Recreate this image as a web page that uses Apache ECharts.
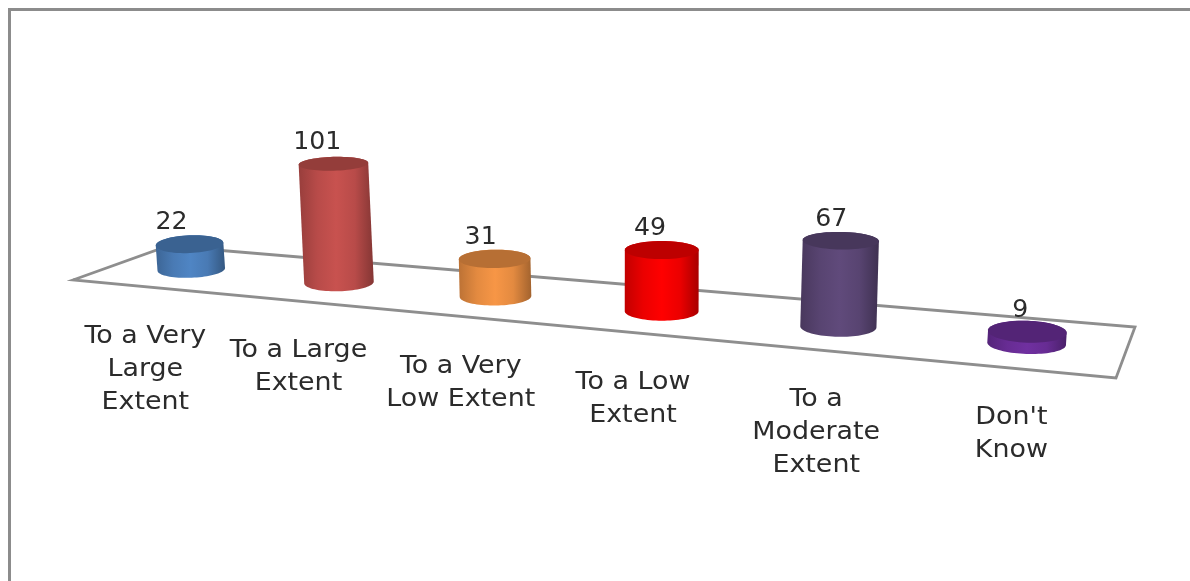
<!DOCTYPE html>
<html>
<head>
<meta charset="utf-8">
<style>html,body{margin:0;padding:0;background:#fff}#chart{width:1190px;height:581px}</style>
<script src="https://cdn.jsdelivr.net/npm/echarts@6/dist/echarts.min.js"></script>
</head>
<body>
<div id="chart"></div>
<script>
// Survey responses
const categories = [
  'To a Very\nLarge\nExtent',
  'To a Large\nExtent',
  'To a Very\nLow Extent',
  'To a Low\nExtent',
  'To a\nModerate\nExtent',
  "Don't\nKnow"
];
const responses = [22, 101, 31, 49, 67, 9];
const palette = ['#4f85c4', '#c8524f', '#f79646', '#ff0000', '#604a7b', '#7030a0'];

// Floor plane of the 3D scene, in page pixels
const floor = { fl: [73, 280], bl: [168, 246], br: [1135, 327], fr: [1116, 378] };
const perspective = 0.2;   // how much closer the right end is than the left
const radius = 40;

const lerp = (a, b, t) => a + (b - a) * t;
const depthScale = t => 1 / (1 + perspective * (1 - t));

// Darken a #rrggbb colour by a factor
function shade(hex, f) {
  const n = parseInt(hex.slice(1), 16);
  const ch = sh => Math.round(((n >> sh) & 255) * f);
  return 'rgb(' + ch(16) + ',' + ch(8) + ',' + ch(0) + ')';
}

// t runs along the categories (0..1), v across the floor from front to back
function project(t, v) {
  const p = t * depthScale(t);
  const fx = lerp(floor.fl[0], floor.fr[0], p), fy = lerp(floor.fl[1], floor.fr[1], p);
  const bx = lerp(floor.bl[0], floor.br[0], p), by = lerp(floor.bl[1], floor.br[1], p);
  return [lerp(fx, bx, v), lerp(fy, by, v)];
}

function ellipseArc(cx, cy, rx, ry, tilt, from, to, steps) {
  const pts = [];
  for (let k = 0; k <= steps; k++) {
    const a = from + (to - from) * k / steps;
    const ex = rx * Math.cos(a), ey = ry * Math.sin(a);
    pts.push([cx + ex * Math.cos(tilt) - ey * Math.sin(tilt),
              cy + ex * Math.sin(tilt) + ey * Math.cos(tilt)]);
  }
  return pts;
}

const font = '24px "DejaVu Sans"';
const ink = '#2b2b2b';

function renderFloor() {
  return {
    type: 'polygon',
    shape: { points: [floor.fl, floor.bl, floor.br, floor.fr] },
    style: { fill: 'none', stroke: '#8e8e8e', lineWidth: 2.8 }
  };
}

function renderCylinder(params, api) {
  const i = api.value(0), value = api.value(1);
  const sys = params.coordSys;
  const t = (api.coord([i, 0])[0] - sys.x) / sys.width;
  const s = depthScale(t);
  const [bx, by] = project(t, 0.5);
  const h = api.size([0, value])[1] * s;
  const rx = radius * s;

  // Verticals converge slightly towards the middle of the scene
  const tx = bx + h * (bx - 650) * 0.00015;
  const ty = by - h;
  const tilt = (bx - 650) * 0.00009;
  const ryBase = 2 + 0.024 * by;
  const ryTop = 3 + 0.024 * ty;

  const base = palette[i];
  const frontArc = ellipseArc(bx, by, rx, ryBase, tilt, Math.PI, 0, 40);
  const backArc = ellipseArc(tx, ty, rx, ryTop, tilt, 0, -Math.PI, 40);
  const side = {
    type: 'linear', x: 0, y: 0, x2: 1, y2: 0,
    colorStops: [
      { offset: 0, color: shade(base, 0.76) },
      { offset: 0.25, color: shade(base, 0.92) },
      { offset: 0.5, color: base },
      { offset: 0.75, color: shade(base, 0.92) },
      { offset: 1, color: shade(base, 0.66) }
    ]
  };

  const labelX = bx - 46 + (bx - 191) * 0.0368;
  const labelY = by + 51 + (bx - 191) * 0.008;
  const valueX = tx - 18 + (tx - 191) * 0.0132;

  return {
    type: 'group',
    children: [
      { type: 'polygon', shape: { points: frontArc.concat(backArc) }, style: { fill: side } },
      { type: 'polygon',
        shape: { points: ellipseArc(tx, ty, rx, ryTop, tilt, 0, Math.PI * 2, 64) },
        style: { fill: shade(base, 0.74) } },
      { type: 'text', x: valueX, y: ty - 21, scaleX: 1.05,
        style: { text: String(value), x: 0, y: 0, font, fill: ink,
                 align: 'center', verticalAlign: 'middle' } },
      { type: 'text', x: labelX, y: labelY, scaleX: 1.12,
        style: { text: categories[i], x: 0, y: 0, font, fill: ink, lineHeight: 33,
                 align: 'center', verticalAlign: 'top' } }
    ]
  };
}

const chart = echarts.init(document.getElementById('chart'), null, { renderer: 'canvas' });
chart.setOption({
  animation: false,
  backgroundColor: '#fff',
  graphic: [{
    type: 'rect', silent: true, z: 0,
    shape: { x: 9.5, y: 9.5, width: 1400, height: 800 },
    style: { fill: 'none', stroke: '#8c8c8c', lineWidth: 3 }
  }],
  grid: { left: 0, right: 0, top: 0, bottom: 0 },
  xAxis: { type: 'category', data: categories, show: false },
  yAxis: { type: 'value', min: 0, max: 430, show: false },
  series: [
    { type: 'custom', z: 1, silent: true, coordinateSystem: 'cartesian2d',
      data: [[0, 0]], renderItem: renderFloor },
    { type: 'custom', z: 2, coordinateSystem: 'cartesian2d',
      encode: { x: 0, y: 1 },
      data: responses.map((v, i) => [i, v]), renderItem: renderCylinder }
  ]
});
</script>
</body>
</html>
